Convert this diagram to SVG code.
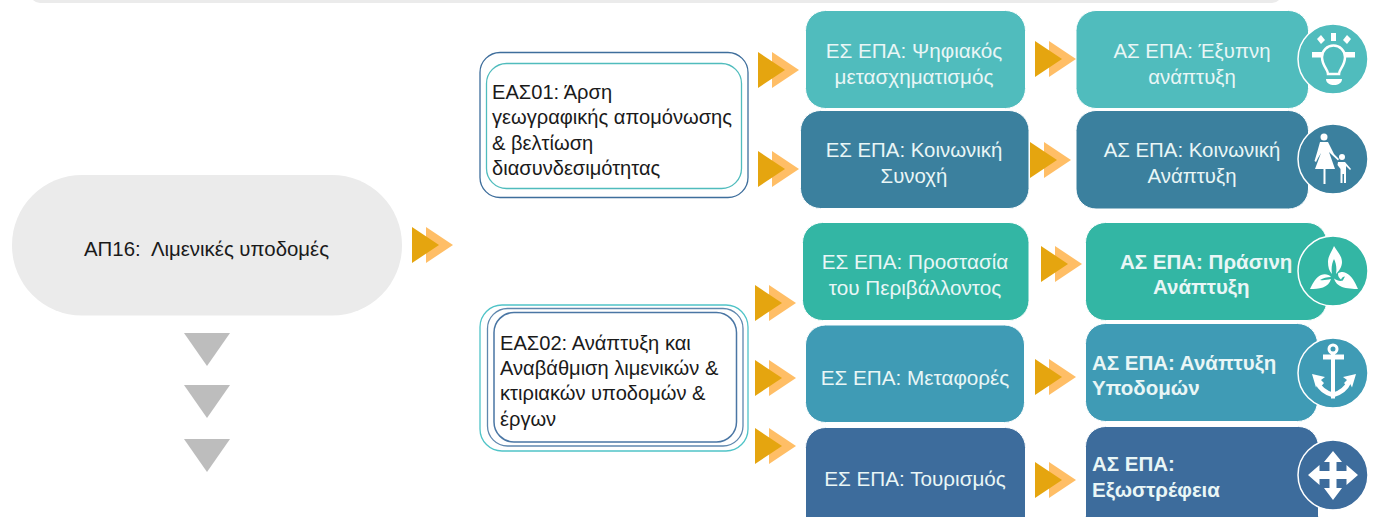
<svg xmlns="http://www.w3.org/2000/svg" width="1373" height="517" viewBox="0 0 1373 517">
<style>
text{font-family:"Liberation Sans",Arial,sans-serif;font-size:20.4px}
.dk{fill:#1a1a1a}
.sm{font-size:20.1px}
.lt{fill:#e9f6f6;text-anchor:middle}
.es{font-size:20.7px}
.bd{fill:#e9f6f6;font-weight:bold;font-size:20.5px}
.box{stroke:#fff;stroke-width:1}
.c1{fill:#50bcbd}.c2{fill:#3b809e}.c3{fill:#33b6a4}.c4{fill:#3f9bb5}.c5{fill:#3d6c9c}
.ring{stroke:#fff;stroke-width:1.5;fill-opacity:1}
.ic{fill:#fff}
.ics{fill:none;stroke:#fff;stroke-width:2.5}
.fr{fill:#fff}
.tri{fill:#bdbdbd}
.a1{fill:#e5a50f}.a2{fill:#ffbe66}
</style>
<defs>
<g id="dbl"><polygon class="a2" points="14,-18 41,0 14,18"/><polygon class="a1" points="0,-18 27,0 0,18"/></g>
</defs>
<rect id="topbar" x="30" y="-20" width="1252" height="23" rx="10" fill="#ebebeb"/>

<g id="ap16"><rect x="12" y="175" width="390" height="140.500" rx="70" fill="#ebebeb"/><text class="dk" x="84" y="256" xml:space="preserve">ΑΠ16:  Λιμενικές υποδομές</text></g>

<g id="eas01"><rect class="fr" x="480" y="52.500" width="268" height="145" rx="20" stroke="#3e6e9c" stroke-width="1.300"/><rect class="fr" x="486.500" y="63.500" width="255" height="125" rx="20" stroke="#50bcbd" stroke-width="1.300"/>
<text class="dk sm" x="492" y="98.500">ΕΑΣ01: Άρση</text><text class="dk sm" x="492" y="124">γεωγραφικής απομόνωσης</text><text class="dk sm" x="492" y="149.500">&amp; βελτίωση</text><text class="dk sm" x="492" y="175">διασυνδεσιμότητας</text></g>

<g id="eas02"><rect class="fr" x="480" y="305" width="268" height="146" rx="22" stroke="#50c4c8" stroke-width="1.300"/><rect class="fr" x="487.500" y="308.500" width="255.500" height="137.500" rx="20" stroke="#5f87ae" stroke-width="1.300"/><rect class="fr" x="494" y="312.500" width="242.500" height="129.500" rx="20" stroke="#4a76a4" stroke-width="1.500"/>
<text class="dk sm" x="500" y="350">ΕΑΣ02: Ανάπτυξη και</text><text class="dk sm" x="500" y="375">Αναβάθμιση λιμενικών &amp;</text><text class="dk sm" x="500" y="400">κτιριακών υποδομών &amp;</text><text class="dk sm" x="500" y="426">έργων</text></g>

<g id="es1"><rect class="box c1" x="805.500" y="10.500" width="220" height="98" rx="20"/><text class="lt es" x="914" y="58">ΕΣ ΕΠΑ: Ψηφιακός</text><text class="lt es" x="914" y="84">μετασχηματισμός</text></g>
<g id="es2"><rect class="box c2" x="800.500" y="110.500" width="228.500" height="98" rx="20"/><text class="lt" x="914" y="157">ΕΣ ΕΠΑ: Κοινωνική</text><text class="lt" x="914" y="183">Συνοχή</text></g>
<g id="es3"><rect class="box c3" x="802.500" y="222.500" width="226.500" height="98" rx="20"/><text class="lt es" x="915" y="269">ΕΣ ΕΠΑ: Προστασία</text><text class="lt es" x="915" y="295">του Περιβάλλοντος</text></g>
<g id="es4"><rect class="box c4" x="805.500" y="325" width="219" height="97.500" rx="20"/><text class="lt es" x="915" y="385">ΕΣ ΕΠΑ: Μεταφορές</text></g>
<g id="es5"><rect class="box c5" x="805.500" y="427.500" width="220" height="110" rx="20"/><text class="lt es" x="915" y="486">ΕΣ ΕΠΑ: Τουρισμός</text></g>

<g id="as1"><rect class="box c1" x="1076" y="10.500" width="232.500" height="98" rx="20"/><text class="lt" x="1192" y="58">ΑΣ ΕΠΑ: Έξυπνη</text><text class="lt" x="1192" y="84">ανάπτυξη</text>
<circle class="ring c1" cx="1333" cy="59" r="35"/>
<path class="ics" d="M1328 74c0-5-6-8-6-17a11.500 11.500 0 0 1 23 0c0 9-6 12-6 17z"/><path class="ic" d="M1326 79h16c0 4-4 6-8 6s-8-2-8-6zM1312 52h10v5.500h-10zM1345 52h10v5.500h-10zM1331 33h5v8h-5zM1317 39l4-4 4 5-4 4zM1351 39l-4-4-4 5 4 4z"/></g>

<g id="as2"><rect class="box c2" x="1076" y="110.500" width="232.500" height="98.500" rx="20"/><text class="lt" x="1192" y="157">ΑΣ ΕΠΑ: Κοινωνική</text><text class="lt" x="1192" y="183">Ανάπτυξη</text>
<circle class="ring c2" cx="1333" cy="159" r="35"/>
<circle class="ic" cx="1324" cy="137" r="3.500"/><circle class="ic" cx="1342" cy="157" r="3"/>
<path class="ic" d="M1320 142h8l2 4 4 8 5 5-1 1.500-7-6.500-2-2 6 17h-20l6-16-3 5-2 4-1.500-1 3-10zM1323.500 168h2v16h-2zM1338 162h7l6 7-1 1-4-4v17h-2v-9h-1.500v9h-2v-14l-3-4z"/></g>

<g id="as3"><rect class="box c3" x="1085.500" y="222.500" width="241.500" height="98" rx="20"/><text class="bd" x="1120" y="269">ΑΣ ΕΠΑ: Πράσινη</text><text class="bd" x="1153" y="294">Ανάπτυξη</text>
<circle class="ring c3" cx="1333" cy="271" r="35"/>
<path class="ic" d="M1334 246c3 5 8 10 8 16 0 5-3 9-6 12 1-6 0-11-2-15-2 4-3 9-2 15-3-3-4-7-4-12 0-6 4-11 6-16zM1310 289c3-6 6-12 11-14 4-1.500 8-.5 10 2-4 0-8 1-11 3 3 .5 7 0 11-1-1 4-4 7-8 8.500-4 1.500-9 1.500-13 1.500zM1358 289c-3-7-6-13-12-16-3-1.500-6-1-8 .5 0 3 1 4 3 6 1-2 2-3 4-3-1 2-2 3-2 4-3 1-6 0-9-2 1 4 4 7 8 8.500 4 1.500 12 2 16 2z"/></g>

<g id="as4"><rect class="box c4" x="1085.500" y="323.500" width="232" height="98" rx="20"/><text class="bd" x="1092" y="370">ΑΣ ΕΠΑ: Ανάπτυξη</text><text class="bd" x="1092" y="395">Υποδομών</text>
<circle class="ring c4" cx="1333" cy="373" r="35"/>
<circle cx="1333" cy="349" r="4" fill="none" stroke="#fff" stroke-width="3"/>
<path class="ic" d="M1323 354.500h21v5h-21zM1331 352h4v46.500h-4zM1312 374l13 3-4 3 3 3-3 3.500-3-3-2 4zM1356 374l-13 3 4 3-3 3 3 3.500 3-3 2 4z"/>
<path fill="none" stroke="#fff" stroke-width="4.500" d="M1317 382c3 7 9 11 16 13 7-2 13-6 16-13"/></g>

<g id="as5"><rect class="box c5" x="1085.500" y="426.500" width="233" height="110" rx="20"/><text class="bd" x="1092" y="471">ΑΣ ΕΠΑ:</text><text class="bd" x="1092" y="497">Εξωστρέφεια</text>
<circle class="ring c5" cx="1333" cy="475" r="35"/>
<path class="ic" d="M1333 451l9 11h-5.500v9h10v-6l11.500 10-11.500 10v-6h-10v9h5.500l-9 12-9-12h5.500v-9h-10v6l-11.500-10 11.500-10v6h10v-9h-5.500z"/></g>

<g id="connectors">
<use href="#dbl" x="412" y="245"/>
<use href="#dbl" x="758" y="70"/><use href="#dbl" x="758" y="169"/>
<use href="#dbl" x="755" y="303"/><use href="#dbl" x="755" y="378"/><use href="#dbl" x="755" y="446"/>
<use href="#dbl" x="1035" y="59"/><use href="#dbl" x="1030" y="160"/><use href="#dbl" x="1041" y="264"/><use href="#dbl" x="1035" y="377"/><use href="#dbl" x="1035" y="480"/>
<polygon class="tri" points="184,333 230,333 207,366"/><polygon class="tri" points="184,385 230,385 207,418"/><polygon class="tri" points="184,439 230,439 207,472"/>
</g>
</svg>
